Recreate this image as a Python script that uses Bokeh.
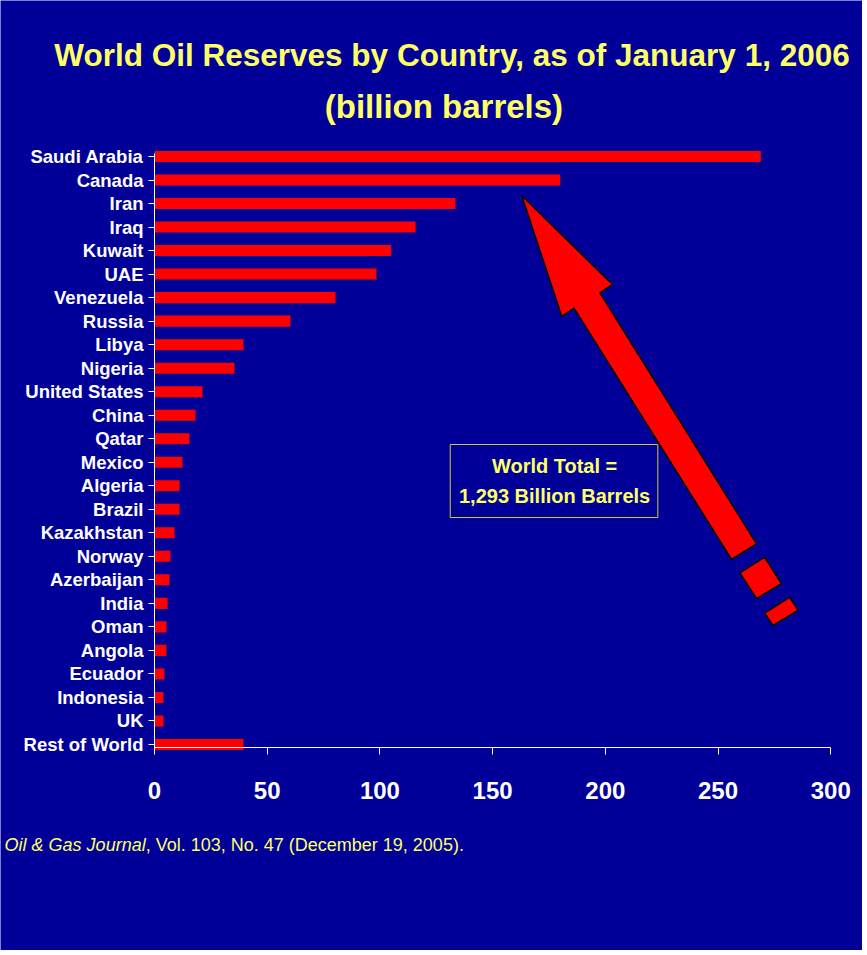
from bokeh.plotting import figure
from bokeh.models import Range1d, FixedTicker, Label, ColumnDataSource
from bokeh.embed import file_html
from bokeh.resources import INLINE

# ---- data ----
countries = ["Saudi Arabia", "Canada", "Iran", "Iraq", "Kuwait", "UAE", "Venezuela",
             "Russia", "Libya", "Nigeria", "United States", "China", "Qatar", "Mexico",
             "Algeria", "Brazil", "Kazakhstan", "Norway", "Azerbaijan", "India", "Oman",
             "Angola", "Ecuador", "Indonesia", "UK", "Rest of World"]
reserves = [269, 180, 133.5, 115.8, 105, 98.5, 80.3, 60.3, 39.5, 35.5, 21.3, 18.2,
            15.5, 12.4, 11.1, 11.1, 8.9, 7.1, 6.7, 5.8, 5.3, 5.3, 4.4, 4.0, 4.0, 39.5]
x_ticks = [0, 50, 100, 150, 200, 250, 300]
title_line1 = "World Oil Reserves by Country, as of January 1, 2006"
title_line2 = "(billion barrels)"
box_line1 = "World Total ="
box_line2 = "1,293 Billion Barrels"
source_italic = "Oil & Gas Journal"
source_rest = ", Vol. 103, No. 47 (December 19, 2005)."

BG = "#000099"
YELLOW = "#FFFF66"
FONT = "Liberation Sans"

rows = list(range(len(countries)))
src = ColumnDataSource(dict(y=rows, right=reserves, country=countries))

# frame covers the whole canvas; axes are placed inside it with fixed_location
p = figure(width=862, height=950, output_backend="svg", toolbar_location=None,
           x_range=Range1d(-68.32, 314.1), y_range=Range1d(start=33.76, end=-6.633),
           min_border=0)
p.background_fill_color = BG
p.border_fill_color = BG
p.outline_line_color = None
p.xgrid.visible = False
p.ygrid.visible = False

p.hbar(y="y", right="right", left=0, height=0.47, source=src,
       fill_color="#FF0000", line_color=None)

# axes
xa = p.xaxis[0]
xa.fixed_location = 25.128
xa.bounds = (0, 300)
xa.ticker = FixedTicker(ticks=x_ticks)
xa.axis_line_color = "white"
xa.major_tick_line_color = "white"
xa.major_tick_out = 7
xa.major_tick_in = 0
xa.minor_tick_line_color = None
xa.major_label_text_color = "white"
xa.major_label_text_font = FONT
xa.major_label_text_font_style = "bold"
xa.major_label_text_font_size = "24px"
xa.major_label_standoff = 28

ya = p.yaxis[0]
ya.fixed_location = 0
ya.bounds = (-0.128, 25.128)
ya.ticker = FixedTicker(ticks=rows)
ya.major_label_overrides = {i: c for i, c in zip(rows, countries)}
ya.axis_line_color = "white"
ya.major_tick_line_color = "white"
ya.major_tick_out = 6
ya.major_tick_in = 0
ya.minor_tick_line_color = None
ya.major_label_text_color = "white"
ya.major_label_text_font = FONT
ya.major_label_text_font_style = "bold"
ya.major_label_text_font_size = "18.5px"
ya.major_label_standoff = 5

# title
p.add_layout(Label(x=132.0, y=-4.315, text=title_line1, text_align="center",
                   text_baseline="alphabetic", text_color=YELLOW, text_font=FONT,
                   text_font_style="bold", text_font_size="31.5px"))
p.add_layout(Label(x=128.4, y=-2.126, text=title_line2, text_align="center",
                   text_baseline="alphabetic", text_color=YELLOW, text_font=FONT,
                   text_font_style="bold", text_font_size="33px"))

# World total box
p.quad(left=[131.2], right=[223.3], top=[12.245], bottom=[15.35],
       fill_color=None, line_color="#CCCC33", line_width=1)
p.add_layout(Label(x=177.5, y=13.177, text=box_line1, text_align="center",
                   text_baseline="alphabetic", text_color=YELLOW, text_font=FONT,
                   text_font_style="bold", text_font_size="20px"))
p.add_layout(Label(x=177.5, y=14.417, text=box_line2, text_align="center",
                   text_baseline="alphabetic", text_color=YELLOW, text_font=FONT,
                   text_font_style="bold", text_font_size="20px"))

# decorative arrow (in data units)
arrow_xs = [[162.9, 203.2, 197.6, 267.1, 256.0, 186.1, 180.7],
            [259.7, 270.7, 278.1, 267.1],
            [270.7, 281.8, 285.5, 274.4]]
arrow_ys = [[1.658, 5.442, 5.795, 16.47, 17.13, 6.45, 6.80],
            [17.70, 17.04, 18.16, 18.80],
            [19.42, 18.74, 19.30, 19.94]]
p.patches(xs=arrow_xs, ys=arrow_ys, fill_color="#FF0000", line_color="black",
          line_width=1.5)

# source footnote
p.add_layout(Label(x=-66.5, y=29.29, text=source_italic, text_align="left",
                   text_baseline="alphabetic", text_color=YELLOW, text_font=FONT,
                   text_font_style="italic", text_font_size="18px"))
p.add_layout(Label(x=-3.9, y=29.29, text=source_rest, text_align="left",
                   text_baseline="alphabetic", text_color=YELLOW, text_font=FONT,
                   text_font_size="18px"))

open("out.html", "w").write(file_html(p, INLINE))
